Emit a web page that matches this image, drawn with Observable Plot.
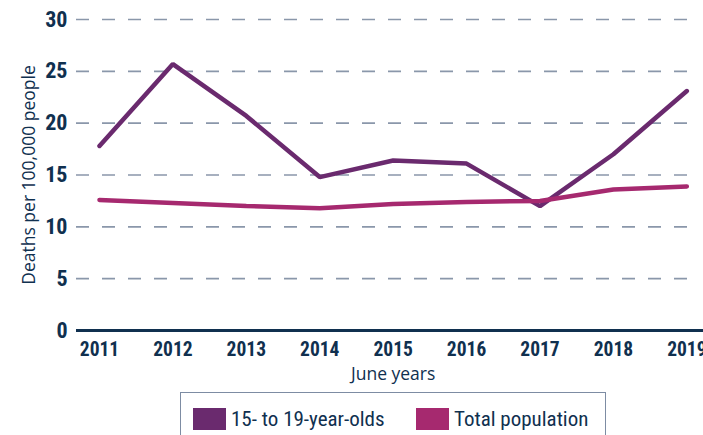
<!DOCTYPE html>
<html><head><meta charset="utf-8">
<script src="https://cdn.jsdelivr.net/npm/d3@7"></script>
<script src="https://cdn.jsdelivr.net/npm/@observablehq/plot@0.6"></script>
<style>
body{margin:0;background:#fff;}
#wrap{position:relative;width:703px;height:435px;overflow:hidden;font-family:"Roboto Condensed","Roboto",sans-serif;color:#10304f;}
#wrap svg{display:block;overflow:visible;}
.legend{position:absolute;left:180px;top:392px;width:426px;height:70px;border:1.5px solid #7d8ca3;box-sizing:border-box;}
.item{position:absolute;top:14px;display:flex;align-items:center;font-size:21px;white-space:nowrap;}
.sw{width:33px;height:22px;margin-right:5px;}
</style></head>
<body><div id="wrap"></div>
<script>
const years = [2011, 2012, 2013, 2014, 2015, 2016, 2017, 2018, 2019];
const youth = [17.8, 25.7, 20.7, 14.8, 16.4, 16.1, 12.0, 17.0, 23.1];
const total = [12.6, 12.3, 12.0, 11.8, 12.2, 12.4, 12.5, 13.6, 13.9];
const yTicks = [0, 5, 10, 15, 20, 25, 30];
const seriesNames = ["15- to 19-year-olds", "Total population"];
const seriesColors = ["#6a2a6e", "#a6296f"];
const yLabel = "Deaths per 100,000 people";
const xLabel = "June years";

const navy = "#10304f";
const condensed = '"Roboto Condensed","Roboto",sans-serif';
const regular = '"Open Sans","Noto Sans",sans-serif';
const youthData = years.map((y, i) => ({year: y, v: youth[i]}));
const totalData = years.map((y, i) => ({year: y, v: total[i]}));

const chart = Plot.plot({
  width: 703,
  height: 392,
  marginLeft: 76,
  marginRight: 13,
  marginTop: 19,
  marginBottom: 62,
  style: {fontFamily: condensed, color: navy, background: "#fff", overflow: "visible"},
  x: {domain: [2010.687, 2019.05]},
  y: {domain: [0, 30]},
  marks: [
    Plot.ruleY(yTicks.filter(d => d > 0), {stroke: "#8a97aa", strokeWidth: 1.6, strokeDasharray: "13,13"}),
    Plot.ruleY([0], {stroke: navy, strokeWidth: 3, insetRight: -13}),
    Plot.axisY({ticks: yTicks, tickSize: 0, tickPadding: 9, fontSize: 22, fontWeight: "bold", label: null, fill: navy}),
    Plot.axisX({ticks: years, tickFormat: d => String(d), tickSize: 0, tickPadding: 12, fontSize: 19.5, fontWeight: "bold", label: null, fill: navy}),
    Plot.line(youthData, {x: "year", y: "v", stroke: seriesColors[0], strokeWidth: 4.5, strokeLinejoin: "miter", strokeLinecap: "round"}),
    Plot.line(totalData, {x: "year", y: "v", stroke: seriesColors[1], strokeWidth: 4.5, strokeLinejoin: "miter", strokeLinecap: "round"}),
    Plot.text([yLabel], {text: d => d, frameAnchor: "left", textAnchor: "middle", rotate: -90, dx: -47, lineAnchor: "middle", fontSize: 17.5, fontFamily: regular, fill: navy}),
    Plot.text([xLabel], {text: d => d, x: () => d3.mean(years), frameAnchor: "bottom", textAnchor: "middle", dy: 44, lineAnchor: "middle", fontSize: 17.5, fontFamily: regular, fill: navy})
  ]
});
const wrap = document.getElementById("wrap");
wrap.appendChild(chart);
const leg = document.createElement("div");
leg.className = "legend";
const lefts = [12, 235];
seriesNames.forEach((n, i) => {
  const it = document.createElement("div");
  it.className = "item";
  it.style.left = lefts[i] + "px";
  const sw = document.createElement("span");
  sw.className = "sw";
  sw.style.background = seriesColors[i];
  const t = document.createElement("span");
  t.textContent = n;
  it.appendChild(sw); it.appendChild(t);
  leg.appendChild(it);
});
wrap.appendChild(leg);
</script>
</body></html>
